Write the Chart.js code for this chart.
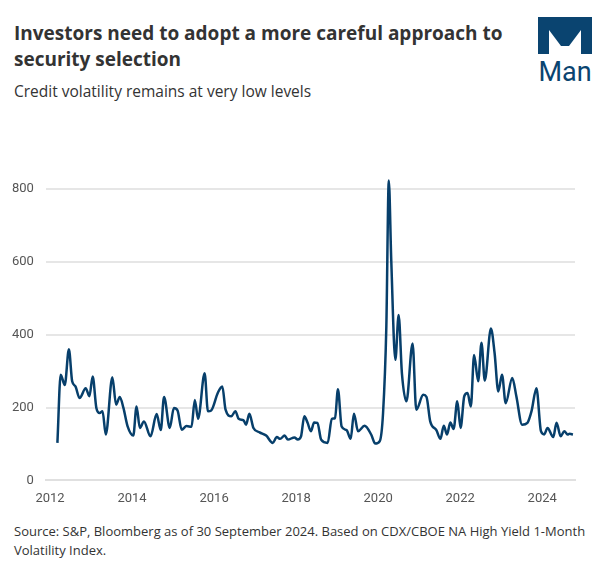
<!DOCTYPE html>
<html lang="en">
<head>
<meta charset="UTF-8">
<title>Credit volatility</title>
<script src="https://cdn.jsdelivr.net/npm/chart.js"></script>
<style>
  body { margin: 0; width: 607px; height: 575px; background: #fff; font-family: "Open Sans", Roboto, sans-serif; position: relative; overflow: hidden; }
  h1 { position: absolute; left: 14px; top: 20px; margin: 0; width: 515px; font-size: 19px; line-height: 26px; font-weight: 700; color: #333; }
  .sub { position: absolute; left: 14px; top: 80px; font-size: 15.5px; color: #333; }
  .src { position: absolute; left: 14px; top: 522px; width: 580px; font-size: 13px; line-height: 19px; color: #333; }
  #wrap { position: absolute; left: 0; top: 140px; width: 600px; height: 370px; }
  .logo { position: absolute; left: 537px; top: 16px; }
</style>
</head>
<body>
<h1>Investors need to adopt a more careful approach to security selection</h1>
<div class="sub">Credit volatility remains at very low levels</div>
<svg class="logo" width="56" height="68" viewBox="0 0 56 68">
  <path d="M1 1 H55 V38 H44 V14 L32 30 H24 L12 14 V38 H1 Z" fill="#0a4470"/>
  <text x="28" y="65" text-anchor="middle" font-family="Roboto, sans-serif" font-size="27" fill="#0a4470">Man</text>
</svg>
<div id="wrap"><canvas id="c"></canvas></div>
<div class="src">Source: S&amp;P, Bloomberg as of 30 September 2024. Based on CDX/CBOE NA High Yield 1-Month Volatility Index.</div>
<script>
// decimal year
const dates = [2012.18,2012.26,2012.36,2012.46,2012.54,2012.62,2012.72,2012.87,2012.96,2013.04,2013.13,2013.21,2013.28,2013.36,2013.52,2013.61,2013.7,2013.79,2013.89,2014.03,2014.11,2014.19,2014.29,2014.45,2014.6,2014.7,2014.78,2014.92,2015.02,2015.11,2015.21,2015.33,2015.45,2015.53,2015.61,2015.77,2015.85,2015.93,2016.09,2016.2,2016.28,2016.42,2016.52,2016.6,2016.72,2016.78,2016.86,2016.96,2017.11,2017.27,2017.43,2017.53,2017.61,2017.72,2017.8,2017.96,2018.04,2018.12,2018.2,2018.28,2018.36,2018.44,2018.52,2018.61,2018.77,2018.87,2018.95,2019.02,2019.11,2019.23,2019.33,2019.41,2019.51,2019.67,2019.83,2019.93,2020.04,2020.12,2020.2,2020.26,2020.32,2020.42,2020.5,2020.58,2020.69,2020.84,2020.93,2021.1,2021.18,2021.27,2021.42,2021.52,2021.6,2021.68,2021.76,2021.84,2021.93,2022.01,2022.1,2022.18,2022.26,2022.34,2022.44,2022.52,2022.6,2022.75,2022.84,2022.93,2023.02,2023.11,2023.27,2023.37,2023.51,2023.64,2023.74,2023.86,2023.97,2024.05,2024.13,2024.27,2024.35,2024.45,2024.54,2024.62,2024.67,2024.75];
const volatility = [103,290,262,360,272,258,226,253,231,285,199,185,190,126,283,208,229,199,149,123,203,144,162,121,182,138,229,144,199,192,139,149,147,221,169,294,190,192,240,258,194,176,190,169,165,153,183,144,132,123,103,119,114,123,112,118,112,121,176,158,135,159,158,112,103,169,171,250,148,138,114,183,135,150,126,101,108,185,422,823,604,331,454,294,217,376,194,235,229,162,138,114,150,126,159,141,217,144,231,240,203,344,272,378,274,417,349,244,290,212,281,231,153,158,190,253,135,126,144,119,158,121,135,126,128,126];
const xTicks = [2012,2014,2016,2018,2020,2022,2024];
const yTicks = [0,200,400,600,800];

new Chart(document.getElementById('c'), {
  type: 'line',
  data: { datasets: [{
    data: dates.map((d, i) => ({ x: d, y: volatility[i] })),
    borderColor: '#073f6b', borderWidth: 2.5, pointRadius: 0,
    cubicInterpolationMode: 'monotone', fill: false
  }]},
  options: {
    responsive: true, maintainAspectRatio: false, animation: false,
    layout: { padding: { left: 0, right: 25, top: 0, bottom: 0 } },
    plugins: { legend: { display: false }, tooltip: { enabled: false } },
    scales: {
      x: { type: 'linear', min: 2011.9, max: 2024.8,
        afterBuildTicks: a => { a.ticks = xTicks.map(v => ({ value: v })); },
        grid: { display: false, drawOnChartArea: false },
        border: { color: '#e0e0e0', width: 2 },
        ticks: { color: '#555', font: { family: 'Roboto', size: 13 }, maxRotation: 0, callback: v => v }
      },
      y: { min: 0, max: 880,
        afterBuildTicks: a => { a.ticks = yTicks.map(v => ({ value: v })); },
        grid: { color: '#e6e6e6', lineWidth: 2, drawTicks: false },
        border: { display: false },
        ticks: { color: '#555', font: { family: 'Roboto', size: 13 }, padding: 12 }
      }
    }
  }
});
</script>
</body>
</html>
